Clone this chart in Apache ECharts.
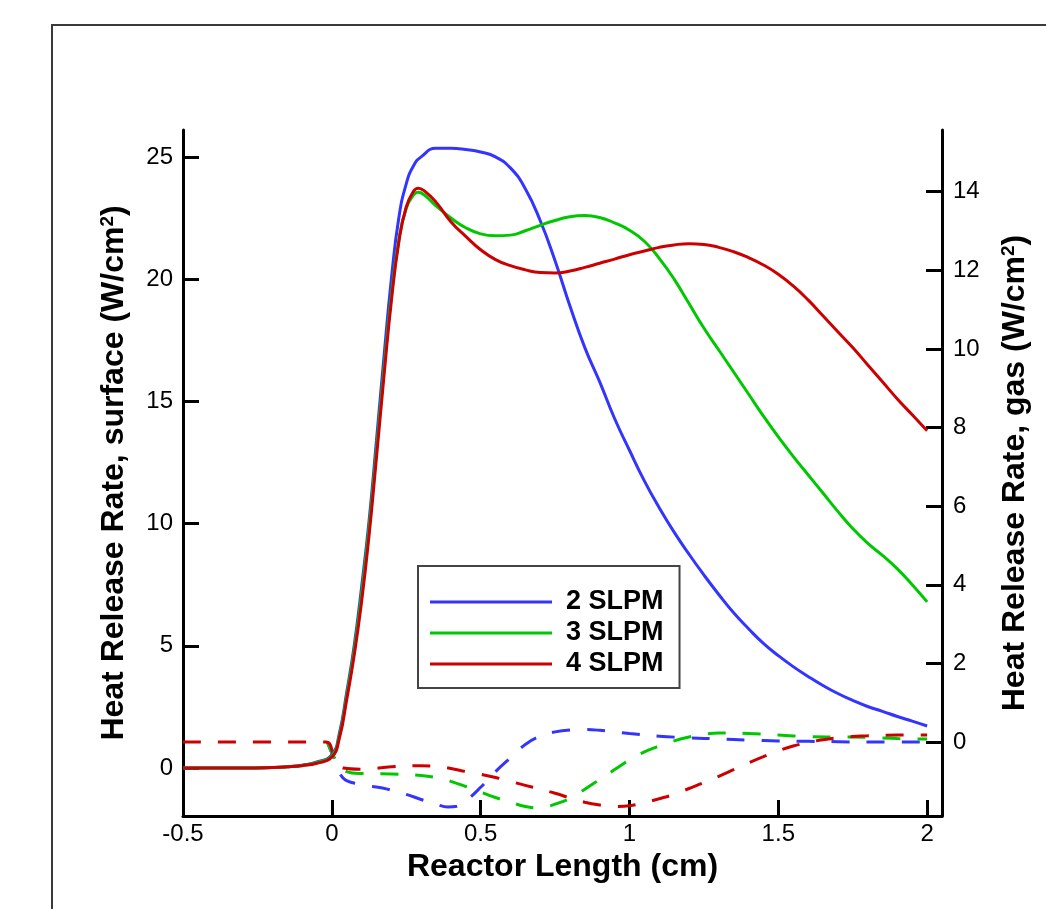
<!DOCTYPE html>
<html>
<head>
<meta charset="utf-8">
<script src="https://cdn.jsdelivr.net/npm/echarts@6/dist/echarts.min.js"></script>
<style>
html,body{margin:0;padding:0;background:#fff;}
#main{width:1046px;height:909px;}
</style>
</head>
<body>
<div id="main"></div>
<script>
// ---- tick labels ----
const xTicks = [-0.5, 0, 0.5, 1, 1.5, 2];
const surfTicks = [0, 5, 10, 15, 20, 25];
const gasTicks = [0, 2, 4, 6, 8, 10, 12, 14];

// ---- legend / series names ----
const seriesNames = ['2 SLPM', '3 SLPM', '4 SLPM'];

// ---- surface heat release (left axis), [x cm, W/cm2] ----
const surf2 = [[-0.5,0],[-0.3,0],[-0.2,0.02],[-0.15,0.05],[-0.1,0.12],[-0.05,0.25],[0,0.55],[0.025,1.4],[0.05,3.1],[0.075,5.0],[0.1,7.4],[0.125,10.1],[0.15,13.4],[0.175,16.8],[0.2,20.0],[0.225,22.5],[0.25,23.9],[0.275,24.65],[0.3,25.0],[0.35,25.35],[0.4,25.35],[0.45,25.3],[0.5,25.2],[0.55,25.0],[0.6,24.55],[0.65,23.7],[0.7,22.4],[0.75,20.75],[0.8,18.9],[0.85,17.2],[0.9,15.8],[0.95,14.3],[1.0,13.0],[1.05,11.75],[1.1,10.65],[1.15,9.65],[1.2,8.75],[1.25,7.9],[1.3,7.1],[1.35,6.35],[1.4,5.7],[1.45,5.1],[1.5,4.6],[1.55,4.15],[1.6,3.75],[1.65,3.38],[1.7,3.05],[1.75,2.77],[1.8,2.52],[1.85,2.32],[1.9,2.11],[1.95,1.92],[2.0,1.72]];
const surf3 = [[-0.5,0],[-0.3,0],[-0.2,0.02],[-0.15,0.05],[-0.1,0.11],[-0.05,0.23],[0,0.5],[0.025,1.3],[0.05,2.95],[0.075,4.8],[0.1,7.1],[0.125,9.8],[0.15,13.0],[0.175,16.3],[0.2,19.3],[0.225,21.6],[0.25,22.9],[0.275,23.45],[0.29,23.55],[0.31,23.45],[0.35,23.0],[0.4,22.5],[0.45,22.1],[0.5,21.85],[0.55,21.77],[0.6,21.8],[0.65,21.98],[0.7,22.2],[0.75,22.4],[0.8,22.55],[0.85,22.6],[0.9,22.52],[0.95,22.3],[1.0,22.0],[1.05,21.55],[1.1,20.85],[1.15,20.0],[1.2,19.0],[1.25,18.0],[1.3,17.1],[1.35,16.2],[1.4,15.3],[1.45,14.4],[1.5,13.55],[1.55,12.75],[1.6,12.0],[1.65,11.25],[1.7,10.5],[1.75,9.8],[1.8,9.2],[1.85,8.7],[1.9,8.15],[1.95,7.5],[2.0,6.8]];
const surf4 = [[-0.5,0],[-0.3,0],[-0.2,0.02],[-0.15,0.05],[-0.1,0.1],[-0.05,0.2],[0,0.45],[0.025,1.2],[0.05,2.8],[0.075,4.6],[0.1,6.8],[0.125,9.5],[0.15,12.7],[0.175,16.0],[0.2,19.1],[0.225,21.5],[0.25,22.95],[0.275,23.6],[0.29,23.72],[0.31,23.62],[0.35,23.15],[0.4,22.35],[0.45,21.75],[0.5,21.2],[0.55,20.8],[0.6,20.55],[0.65,20.38],[0.7,20.27],[0.75,20.25],[0.8,20.33],[0.85,20.48],[0.9,20.65],[0.95,20.82],[1.0,21.0],[1.05,21.15],[1.1,21.3],[1.15,21.4],[1.2,21.45],[1.25,21.42],[1.3,21.3],[1.35,21.12],[1.4,20.88],[1.45,20.58],[1.5,20.2],[1.55,19.72],[1.6,19.15],[1.65,18.5],[1.7,17.85],[1.75,17.2],[1.8,16.5],[1.85,15.8],[1.9,15.1],[1.95,14.45],[2.0,13.8]];

// ---- gas heat release (right axis), [x cm, W/cm2] ----
const gas2 = [[-0.015,0],[0.01,-0.45],[0.04,-0.93],[0.1,-1.08],[0.17,-1.17],[0.25,-1.33],[0.3,-1.46],[0.35,-1.58],[0.39,-1.65],[0.42,-1.63],[0.45,-1.5],[0.5,-1.15],[0.55,-0.75],[0.6,-0.4],[0.65,-0.06],[0.7,0.15],[0.75,0.26],[0.8,0.31],[0.85,0.32],[0.9,0.3],[0.95,0.26],[1.0,0.22],[1.1,0.15],[1.2,0.11],[1.3,0.08],[1.4,0.05],[1.5,0.03],[1.6,0.02],[1.7,0.01],[1.8,0],[2.0,0]];
const gas3 = [[-0.015,0],[0.02,-0.55],[0.05,-0.75],[0.1,-0.8],[0.2,-0.81],[0.3,-0.85],[0.35,-0.9],[0.4,-1.0],[0.45,-1.13],[0.5,-1.27],[0.55,-1.41],[0.6,-1.53],[0.65,-1.64],[0.68,-1.67],[0.72,-1.65],[0.75,-1.58],[0.8,-1.43],[0.85,-1.2],[0.9,-0.95],[0.95,-0.7],[1.0,-0.45],[1.05,-0.25],[1.1,-0.1],[1.15,0.03],[1.2,0.13],[1.25,0.2],[1.3,0.23],[1.35,0.23],[1.4,0.22],[1.5,0.18],[1.6,0.14],[1.7,0.13],[1.8,0.12],[1.9,0.09],[2.0,0.08]];
const gas4 = [[-0.5,0],[-0.02,0],[0.01,-0.4],[0.04,-0.66],[0.1,-0.69],[0.2,-0.63],[0.3,-0.6],[0.35,-0.62],[0.4,-0.67],[0.45,-0.75],[0.5,-0.82],[0.55,-0.9],[0.6,-1.0],[0.65,-1.1],[0.7,-1.2],[0.75,-1.3],[0.8,-1.42],[0.85,-1.53],[0.9,-1.6],[0.95,-1.64],[1.0,-1.62],[1.05,-1.54],[1.1,-1.44],[1.15,-1.33],[1.2,-1.18],[1.25,-1.03],[1.3,-0.87],[1.35,-0.7],[1.4,-0.53],[1.45,-0.37],[1.5,-0.22],[1.55,-0.1],[1.6,-0.01],[1.65,0.06],[1.7,0.11],[1.75,0.14],[1.8,0.16],[1.9,0.18],[2.0,0.18]];

const colors = ['#3434ff', '#00c800', '#cc0000'];
const FONT = '"Liberation Sans", Arial, Helvetica, sans-serif';

const surfData = [surf2, surf3, surf4];
const gasData = [gas2, gas3, gas4];

const chart = echarts.init(document.getElementById('main'), null, {renderer: 'canvas'});

const nameStyle = {
  fontSize: 32, fontWeight: 'bold', color: '#000', fontFamily: FONT,
  rich: { sup: { fontSize: 19, fontWeight: 'bold', color: '#000', fontFamily: FONT, verticalAlign: 'top', padding: [0, 0, 14, 0] } }
};

function axisCommon(ticks, labelMargin) {
  return {
    axisLine: { show: true, onZero: false, lineStyle: { color: '#000', width: 3 } },
    axisTick: { show: true, inside: true, length: 16, customValues: ticks, lineStyle: { color: '#000', width: 3 } },
    axisLabel: { show: true, customValues: ticks, fontSize: 24, color: '#000', fontFamily: FONT, margin: labelMargin },
    splitLine: { show: false },
    minorTick: { show: false }
  };
}

const series = [];
gasData.forEach((d, i) => {
  series.push({
    name: seriesNames[i] + ' gas', type: 'line', yAxisIndex: 1, data: d,
    symbol: 'none', smooth: 0.4, color: colors[i],
    lineStyle: { color: colors[i], width: 3, type: [18, 17] },
    z: 2
  });
});
surfData.forEach((d, i) => {
  series.push({
    name: seriesNames[i], type: 'line', yAxisIndex: 0, data: d,
    symbol: 'none', smooth: 0.5, color: colors[i],
    lineStyle: { color: colors[i], width: 3 },
    z: 3
  });
});

chart.setOption({
  animation: false,
  backgroundColor: '#fff',
  grid: { left: 183, right: 104, top: 130, bottom: 93, containLabel: false },
  xAxis: Object.assign({
    type: 'value', min: -0.5, max: 2.05,
    name: 'Reactor Length (cm)', nameLocation: 'middle', nameGap: 28,
    nameTextStyle: { fontSize: 32, fontWeight: 'bold', color: '#000', fontFamily: FONT }
  }, axisCommon(xTicks, 6)),
  yAxis: [
    Object.assign({
      type: 'value', position: 'left', min: -1.96, max: 26.1,
      name: 'Heat Release Rate, surface (W/cm{sup|2})', nameLocation: 'middle', nameGap: 52,
      nameTextStyle: nameStyle
    }, axisCommon(surfTicks, 10)),
    Object.assign({
      type: 'value', position: 'right', min: -1.88, max: 15.57,
      name: 'Heat Release Rate, gas (W/cm{sup|2})', nameLocation: 'middle', nameGap: 57,
      nameTextStyle: nameStyle
    }, axisCommon(gasTicks, 11))
  ],
  legend: {
    data: seriesNames.map(n => ({ name: n, icon: 'rect' })),
    orient: 'vertical', left: 418, top: 566,
    padding: [21, 16, 9, 12],
    itemWidth: 122, itemHeight: 3, itemGap: 1,
    borderColor: '#444', borderWidth: 2, backgroundColor: '#fff',
    selectedMode: false,
    textStyle: { fontSize: 27, fontWeight: 'bold', color: '#000', fontFamily: FONT, lineHeight: 30, padding: [0, 0, 0, 9] }
  },
  graphic: [{
    type: 'polyline', silent: true,
    shape: { points: [[52, 909], [52, 25], [1046, 25]] },
    style: { stroke: '#3a3a3a', lineWidth: 2, fill: null }
  }],
  series: series
});
</script>
</body>
</html>
